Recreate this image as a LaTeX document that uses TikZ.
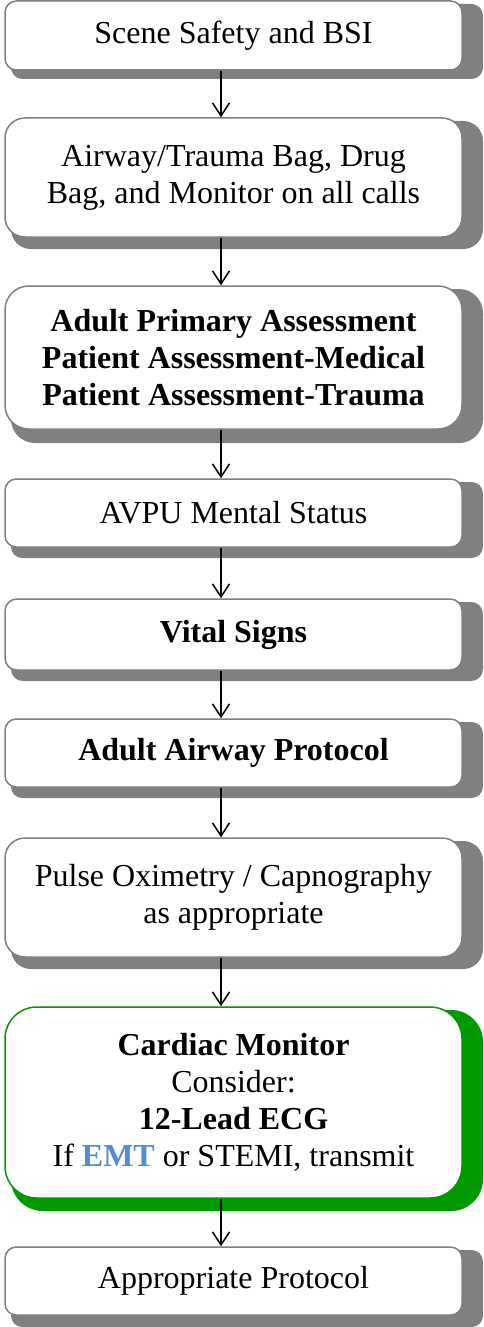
\documentclass[tikz,border=0pt]{standalone}
\usepackage{fontspec}
\setmainfont{Liberation Serif}
\usetikzlibrary{arrows.meta,calc}
\definecolor{shadowgray}{RGB}{128,128,128}
\definecolor{boxline}{RGB}{128,128,128}
\definecolor{ggreen}{RGB}{0,153,0}
\definecolor{emtblue}{RGB}{84,141,212}
\tikzset{
  flow/.style={draw=boxline, line width=1.5pt, fill=white, minimum width=457pt,
    inner sep=0pt, align=center, font=\fontsize{32}{37}\selectfont},
  greenbox/.style={draw=ggreen},
  conn/.style={line width=1.5pt, -{Straight Barb[length=13pt,width=17pt,line width=1.5pt]}},
}
\newcommand\mkbox[7]{%
  \pgfmathsetmacro\hh{#3-#2}%
  \pgfmathsetmacro\rr{\hh/6}%
  \pgfmathsetmacro\cy{-(#2+#3)/2}%
  \fill[#7, rounded corners=\rr pt] (11,-#2-3) rectangle (483,-#4);
  \node[flow, minimum height=\hh pt, rounded corners=\rr pt, #5] (#1) at (233.5,\cy) {#6};
}
\begin{document}
\begin{tikzpicture}[x=1pt,y=1pt]
\useasboundingbox (0,0) rectangle (483,-1327);
\mkbox{b1}{1}{70}{79}{}{Scene Safety and BSI}{shadowgray}
\mkbox{b2}{118}{237}{249}{}{Airway/Trauma Bag, Drug\\Bag, and Monitor on all calls}{shadowgray}
\mkbox{b3}{286}{429}{443}{}{\textbf{Adult Primary Assessment}\\\textbf{Patient Assessment-Medical}\\\textbf{Patient Assessment-Trauma}}{shadowgray}
\mkbox{b4}{479}{547}{558}{}{AVPU Mental Status}{shadowgray}
\mkbox{b5}{599}{670}{681}{}{\textbf{Vital Signs}}{shadowgray}
\mkbox{b6}{719}{787}{798}{}{\textbf{Adult Airway Protocol}}{shadowgray}
\mkbox{b7}{838}{957}{969}{}{Pulse Oximetry / Capnography\\as appropriate}{shadowgray}
\mkbox{b8}{1007}{1198}{1211}{greenbox}{\textbf{Cardiac Monitor}\\Consider:\\\textbf{12-Lead ECG}\\If \textbf{\textcolor{emtblue}{EMT}} or STEMI, transmit}{ggreen}
\mkbox{b9}{1247}{1315}{1327}{}{Appropriate Protocol}{shadowgray}
\coordinate (ax) at (221,0);
\draw[conn] (b1.south -| ax) -- (b2.north -| ax);
\draw[conn] (b2.south -| ax) -- (b3.north -| ax);
\draw[conn] (b3.south -| ax) -- (b4.north -| ax);
\draw[conn] (b4.south -| ax) -- (b5.north -| ax);
\draw[conn] (b5.south -| ax) -- (b6.north -| ax);
\draw[conn] (b6.south -| ax) -- (b7.north -| ax);
\draw[conn] (b7.south -| ax) -- (b8.north -| ax);
\draw[conn] (b8.south -| ax) -- (b9.north -| ax);
\end{tikzpicture}
\end{document}
